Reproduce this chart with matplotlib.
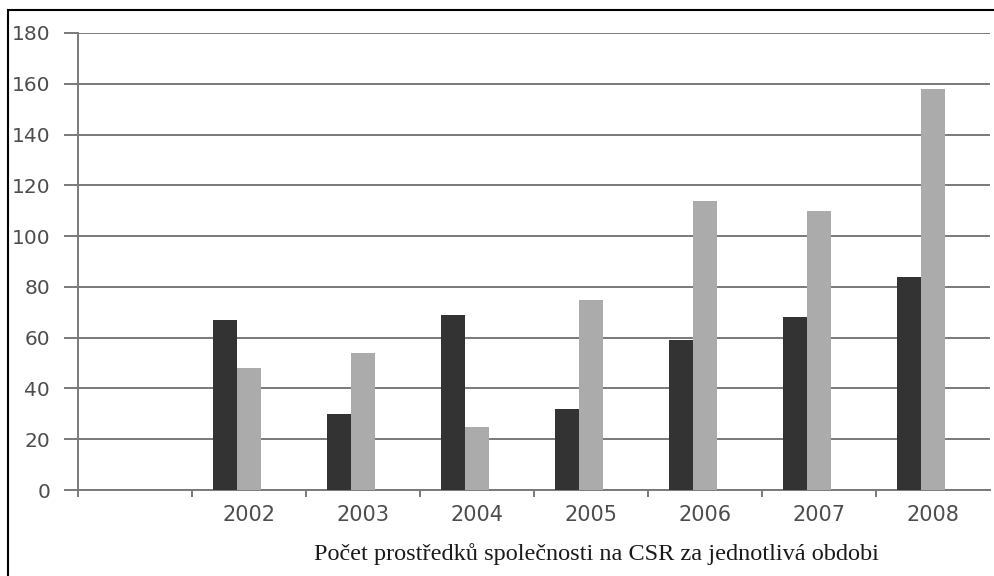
import matplotlib
matplotlib.use("Agg")
import matplotlib.pyplot as plt
from matplotlib.patches import Rectangle
import numpy as np

categories = ["", "2002", "2003", "2004", "2005", "2006", "2007", "2008"]
series_dark = [np.nan, 67, 30, 69, 32, 59, 68, 84]
series_light = [np.nan, 48, 54, 25, 75, 114, 110, 158]
yticks = [0, 20, 40, 60, 80, 100, 120, 140, 160, 180]
caption = "Počet prostředků společnosti na CSR za jednotlivá obdobi"

W, H = 995, 576
fig = plt.figure(figsize=(W / 100, H / 100), dpi=100)
ax = fig.add_axes([78 / W, 1 - 490 / H, (990 - 78) / W, (490 - 33) / H])

x = np.arange(len(categories))
bw = 0.21
ax.bar(x - bw, series_dark, width=bw, color="#333333", zorder=3)
ax.bar(x, series_light, width=bw, color="#ababab", zorder=3)

ax.set_xlim(-0.5, len(categories) - 0.5)
ax.set_ylim(0, 180)
ax.set_yticks(yticks)
ax.set_yticklabels([str(v) for v in yticks], color="#4d4d4d", fontsize=14.5,
                   family="DejaVu Sans")
ax.yaxis.grid(True, color="#7a7a7a", linewidth=1.4, zorder=1)
ax.set_axisbelow(True)

ax.set_xticks(x)
ax.set_xticklabels(categories, color="#4d4d4d", fontsize=15, family="DejaVu Sans")
ax.set_xticks(np.arange(len(categories)) - 0.5, minor=True)
ax.tick_params(axis="x", which="major", length=0, pad=11)
ax.tick_params(axis="x", which="minor", length=5, width=1.4, color="#7a7a7a")
ax.tick_params(axis="y", length=10, width=1.4, color="#7a7a7a", pad=10)

for s in ["top", "right"]:
    ax.spines[s].set_visible(False)
ax.spines["left"].set_color("#7a7a7a")
ax.spines["left"].set_linewidth(1.4)
ax.spines["bottom"].set_color("#7a7a7a")
ax.spines["bottom"].set_linewidth(1.4)

fig.text(596 / W, 1 - 554 / H, caption, ha="center", va="center",
         fontsize=17.5, family="Liberation Serif", color="#1a1a1a")

fig.patches.append(Rectangle((8 / W, -0.05), 1.1, 1 - 10 / H + 0.05,
                             transform=fig.transFigure, fill=False,
                             edgecolor="black", linewidth=1.5))

fig.savefig("out.png", dpi=100)
